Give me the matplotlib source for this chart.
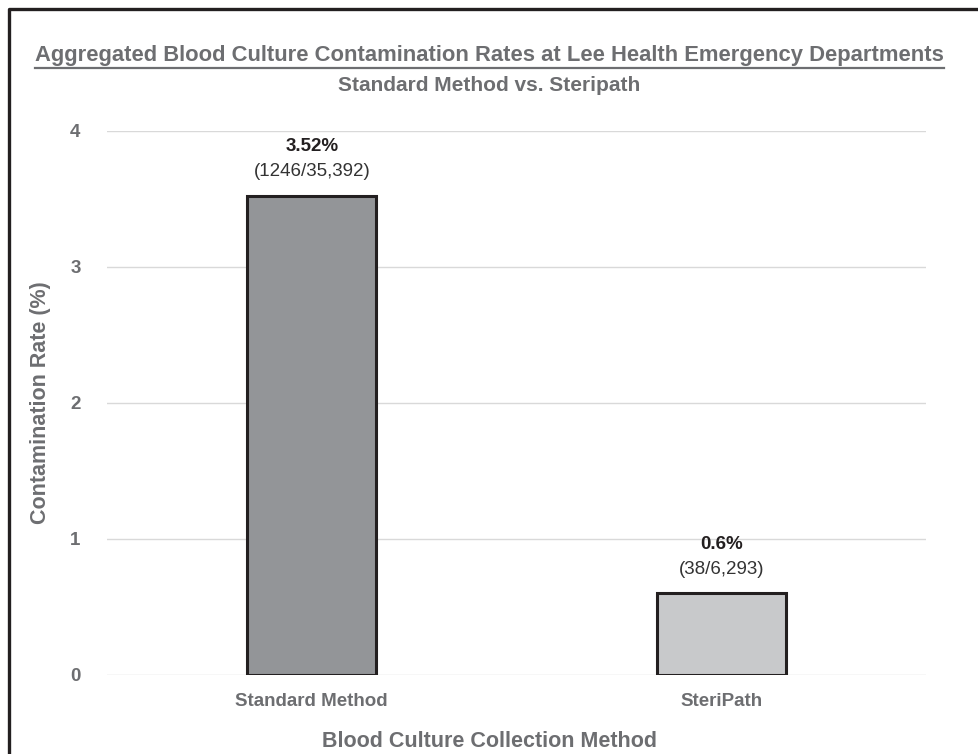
import matplotlib
matplotlib.use("Agg")
import matplotlib.pyplot as plt
from matplotlib.lines import Line2D

# data
categories = ["Standard Method", "SteriPath"]
rates = [3.52, 0.6]
rate_labels = ["3.52%", "0.6%"]
count_labels = ["(1246/35,392)", "(38/6,293)"]
bar_colors = ["#939598", "#c8c9cb"]
y_ticks = [0, 1, 2, 3, 4]

plt.rcParams["font.family"] = ["Liberation Sans", "DejaVu Sans"]
GRAY = "#6d6e71"

fig = plt.figure(figsize=(9.79, 7.54), dpi=100)
ax = fig.add_axes([0.1093, 0.1048, 0.8367, 0.7215])

x = list(range(len(categories)))
ax.bar(x, rates, width=0.315, color=bar_colors, edgecolor="#231f20",
       linewidth=2.2, zorder=3)

for xi, v, pl, cl in zip(x, rates, rate_labels, count_labels):
    ax.annotate(pl, (xi, v), xytext=(0, 35.5), textcoords="offset points",
                ha="center", va="center", fontsize=13.5, fontweight="bold",
                color="#231f20")
    ax.annotate(cl, (xi, v), xytext=(0, 17.5), textcoords="offset points",
                ha="center", va="center", fontsize=13.5, color="#333333")

ax.set_xlim(-0.5, 1.5)
ax.set_ylim(0, 4)
ax.set_yticks(y_ticks)
ax.set_yticklabels([str(t) for t in y_ticks])
ax.set_xticks(x)
ax.set_xticklabels(categories)
ax.grid(axis="y", color="#d9d9d9", linewidth=1, zorder=0)
ax.set_axisbelow(True)
for s in ax.spines.values():
    s.set_visible(False)
ax.tick_params(axis="both", length=0, colors=GRAY, labelsize=13.5)
ax.tick_params(axis="y", pad=19)
ax.tick_params(axis="x", pad=13)
for lbl in ax.get_xticklabels() + ax.get_yticklabels():
    lbl.set_fontweight("bold")

ax.set_xlabel("Blood Culture Collection Method", fontsize=15.5,
              fontweight="bold", color=GRAY, labelpad=15)
# x label sits centred on the figure, not on the plot area
ax.xaxis.label.set_x(0.467)
ax.set_ylabel("Contamination Rate (%)", fontsize=15.5, fontweight="bold",
              color=GRAY, labelpad=14)

t1 = fig.text(0.5, 0.926, "Aggregated Blood Culture Contamination Rates at Lee Health Emergency Departments",
              ha="center", va="center", fontsize=15.8, fontweight="bold", color=GRAY)
fig.text(0.5, 0.886, "Standard Method vs. Steripath", ha="center", va="center",
         fontsize=15, fontweight="bold", color=GRAY)

# underline the first title line
fig.canvas.draw()
bb = t1.get_window_extent().transformed(fig.transFigure.inverted())
fig.add_artist(Line2D([bb.x0, bb.x1], [bb.y0 - 0.002, bb.y0 - 0.002],
                      color=GRAY, linewidth=1.6, transform=fig.transFigure))

# outer frame (left and top edges)
fig.add_artist(Line2D([0.0095, 0.0095, 1.0], [0.0, 0.988, 0.988],
                      color="#231f20", linewidth=2.4, transform=fig.transFigure))

fig.savefig("out.png", dpi=100, facecolor="white")
